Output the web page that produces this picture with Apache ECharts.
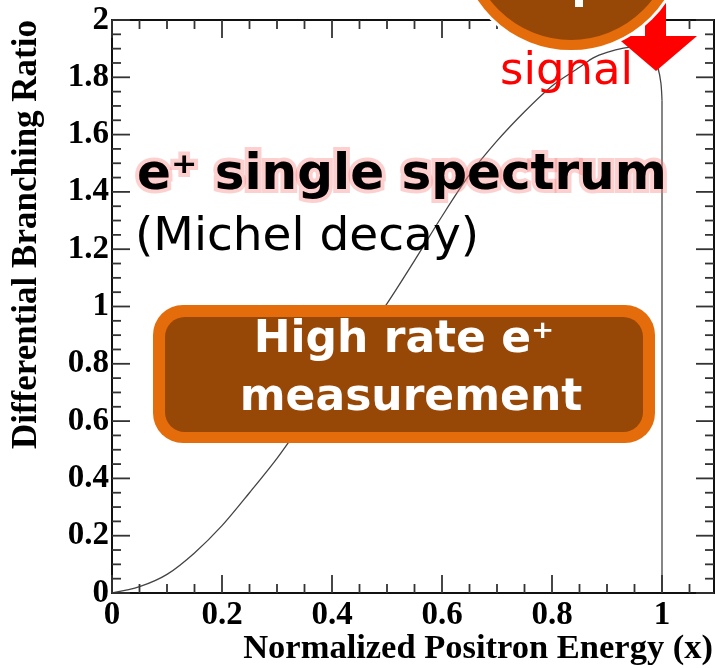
<!DOCTYPE html>
<html>
<head>
<meta charset="utf-8">
<script src="https://cdn.jsdelivr.net/npm/echarts@6/dist/echarts.min.js"></script>
<style>
html,body{margin:0;padding:0;background:#fff;}
#chart{width:715px;height:668px;}
</style>
</head>
<body>
<div id="chart"></div>
<script>
// Normalized positron energy x
const energyX = [0, 0.05, 0.1, 0.15, 0.2, 0.25, 0.3, 0.35, 0.4, 0.45, 0.5, 0.55, 0.6, 0.65, 0.7, 0.75, 0.8, 0.85, 0.875, 0.9, 0.93, 0.95, 0.97, 0.985, 0.993, 0.998, 1.0, 1.0];
// Differential branching ratio
const branchingY = [0, 0.022, 0.065, 0.14, 0.235, 0.35, 0.47, 0.605, 0.74, 0.875, 1.01, 1.16, 1.315, 1.46, 1.578, 1.68, 1.77, 1.835, 1.868, 1.887, 1.902, 1.905, 1.893, 1.865, 1.83, 1.78, 1.72, 0];

// tick positions (major every 0.2, minor every 0.05)
const xMajorTicks = [0, 0.2, 0.4, 0.6, 0.8, 1.0];
const xMinorTicks = [0.05, 0.1, 0.15, 0.25, 0.3, 0.35, 0.45, 0.5, 0.55, 0.65, 0.7, 0.75, 0.85, 0.9, 0.95, 1.05];
const yMajorTicks = [0, 0.2, 0.4, 0.6, 0.8, 1.0, 1.2, 1.4, 1.6, 1.8, 2.0];
const yMinorTicks = [0.05, 0.1, 0.15, 0.25, 0.3, 0.35, 0.45, 0.5, 0.55, 0.65, 0.7, 0.75, 0.85, 0.9, 0.95,
                     1.05, 1.1, 1.15, 1.25, 1.3, 1.35, 1.45, 1.5, 1.55, 1.65, 1.7, 1.75, 1.85, 1.9, 1.95];

const xAxisTitle = 'Normalized Positron Energy (x)';
const yAxisTitle = 'Differential Branching Ratio';
const labelTitle = 'e\u207A single spectrum';
const labelSub = '(Michel decay)';
const boxLines = ['High rate e\u207A', 'measurement'];
const signalText = 'signal';

const fmt = v => {
  if (Math.abs(v - Math.round(v)) < 1e-9) return String(Math.round(v));
  return v.toFixed(1);
};
const fmtX = v => (v > 1.05 ? '' : fmt(v));

const serif = 'Liberation Serif';
const MAJOR = 18, MINOR = 9;
const RIGHT_FRAME_OFFSET = -58;
const GRID = { left: 112, top: 20, width: 660, height: 573 };

function frameAxis(extra) {
  return Object.assign({
    type: 'value',
    axisLine: { show: true, onZero: false, lineStyle: { color: '#111', width: 2 } },
    axisTick: { show: false },
    minorTick: { show: false },
    splitLine: { show: false },
    minorSplitLine: { show: false }
  }, extra);
}

const chart = echarts.init(document.getElementById('chart'), null, { renderer: 'canvas' });

const allPts = energyX.map((x, i) => [x, branchingY[i]]);
const n = allPts.length;

const xRange = { min: 0, max: 1.2, interval: 0.2 };
const yRange = { min: 0, max: 2, interval: 0.2 };

const baseGraphics = [
  { type: 'text', z: 50, x: 27, y: 20, rotation: Math.PI / 2,
    style: { text: yAxisTitle, font: 'bold 35px "Liberation Serif"', fill: '#000',
             align: 'right', verticalAlign: 'middle', textAlign: 'right', textVerticalAlign: 'middle' } },
  { type: 'text', z: 50, x: 713, y: 649,
    style: { text: xAxisTitle, font: 'bold 34.5px "Liberation Serif"', fill: '#000',
             align: 'right', verticalAlign: 'middle', textAlign: 'right', textVerticalAlign: 'middle' } },
  { type: 'polygon', z: 60,
    shape: { points: [[645, -5], [666, -5], [666, 36], [697, 36], [656, 71], [615, 36], [645, 36]] },
    style: { fill: '#ff0000' } },
  { type: 'circle', z: 61, shape: { cx: 571, cy: -62, r: 115 }, style: { fill: '#ffffff' } },
  { type: 'circle', z: 62, shape: { cx: 571, cy: -62, r: 107 }, style: { fill: '#974706', stroke: '#e46c0a', lineWidth: 10 } },
  { type: 'rect', z: 63, shape: { x: 575, y: 0, width: 8, height: 7 }, style: { fill: '#ffffff' } },
  { type: 'text', z: 64, x: 500, y: 72,
    style: { text: signalText, font: '45px "DejaVu Sans"', fill: '#ff0000',
             align: 'left', verticalAlign: 'middle', textAlign: 'left', textVerticalAlign: 'middle' } },
  { type: 'text', z: 69, x: 137, y: 176,
    style: { text: labelTitle, font: 'bold 50px "DejaVu Sans"', fill: 'rgba(250,130,130,0.75)',
             stroke: 'rgba(250,120,120,0.35)', lineWidth: 8,
             shadowColor: 'rgba(255,110,110,1)', shadowBlur: 10,
             align: 'left', verticalAlign: 'middle', textAlign: 'left', textVerticalAlign: 'middle' } },
  { type: 'text', z: 70, x: 137, y: 176,
    style: { text: labelTitle, font: 'bold 50px "DejaVu Sans"', fill: '#000',
             align: 'left', verticalAlign: 'middle', textAlign: 'left', textVerticalAlign: 'middle' } },
  { type: 'text', z: 70, x: 135, y: 238,
    style: { text: labelSub, font: '47px "DejaVu Sans"', fill: '#000',
             align: 'left', verticalAlign: 'middle', textAlign: 'left', textVerticalAlign: 'middle' } },
  { type: 'rect', z: 80, shape: { x: 153, y: 305, width: 502, height: 138, r: 30 }, style: { fill: '#e46c0a' } },
  { type: 'rect', z: 81, shape: { x: 165, y: 317, width: 478, height: 115, r: 20 }, style: { fill: '#974706' } },
  { type: 'text', z: 82, x: 404, y: 341,
    style: { text: boxLines[0], font: 'bold 44px "DejaVu Sans"', fill: '#fff',
             align: 'center', verticalAlign: 'middle', textAlign: 'center', textVerticalAlign: 'middle' } },
  { type: 'text', z: 82, x: 411, y: 399,
    style: { text: boxLines[1], font: 'bold 44px "DejaVu Sans"', fill: '#fff',
             align: 'center', verticalAlign: 'middle', textAlign: 'center', textVerticalAlign: 'middle' } }
];

chart.setOption({
  animation: false,
  backgroundColor: '#fff',
  grid: Object.assign({ outerBoundsMode: 'none', containLabel: false }, GRID),
  xAxis: [
    frameAxis(Object.assign({ position: 'bottom',
      axisLabel: { formatter: fmtX, fontFamily: serif, fontWeight: 'bold', fontSize: 33, color: '#000', margin: 6, hideOverlap: false }
    }, xRange)),
    frameAxis(Object.assign({ position: 'top', axisLabel: { show: false } }, xRange))
  ],
  yAxis: [
    frameAxis(Object.assign({ position: 'left',
      axisLabel: { formatter: fmt, fontFamily: serif, fontWeight: 'bold', fontSize: 33, color: '#000', margin: 3, hideOverlap: false }
    }, yRange)),
    frameAxis(Object.assign({ position: 'right', offset: RIGHT_FRAME_OFFSET, axisLabel: { show: false } }, yRange))
  ],
  series: [{
    type: 'line',
    xAxisIndex: 0, yAxisIndex: 0,
    data: allPts.slice(0, n - 1),
    showSymbol: false,
    symbol: 'none',
    smooth: 0.3,
    lineStyle: { color: '#444', width: 1.3 },
    z: 2
  }, {
    type: 'line',
    xAxisIndex: 0, yAxisIndex: 0,
    data: allPts.slice(n - 2),
    showSymbol: false,
    symbol: 'none',
    lineStyle: { color: '#444', width: 1.3 },
    z: 2
  }],
  graphic: baseGraphics
});

// Tick marks: positions come from the chart's own scales via convertToPixel
const finder = { xAxisIndex: 0, yAxisIndex: 0 };
const gLeft = GRID.left, gTop = GRID.top, gBottom = GRID.top + GRID.height;
const gRight = GRID.left + GRID.width + RIGHT_FRAME_OFFSET;
const tickGraphics = [];
function tickLine(x1, y1, x2, y2) {
  tickGraphics.push({ type: 'line', z: 40, silent: true,
    shape: { x1: x1, y1: y1, x2: x2, y2: y2 },
    style: { stroke: '#333', lineWidth: 1.8 } });
}
function addX(v, len) {
  const px = chart.convertToPixel(finder, [v, 0])[0];
  if (px > gRight + 1) return;
  tickLine(px, gBottom, px, gBottom - len);
  tickLine(px, gTop, px, gTop + len);
}
function addY(v, len) {
  const py = chart.convertToPixel(finder, [0, v])[1];
  tickLine(gLeft, py, gLeft + len, py);
  tickLine(gRight, py, gRight - len, py);
}
xMajorTicks.forEach(v => addX(v, MAJOR));
xMinorTicks.forEach(v => addX(v, MINOR));
yMajorTicks.forEach(v => addY(v, MAJOR));
yMinorTicks.forEach(v => addY(v, MINOR));

chart.setOption({ graphic: baseGraphics.concat(tickGraphics) });
</script>
</body>
</html>
